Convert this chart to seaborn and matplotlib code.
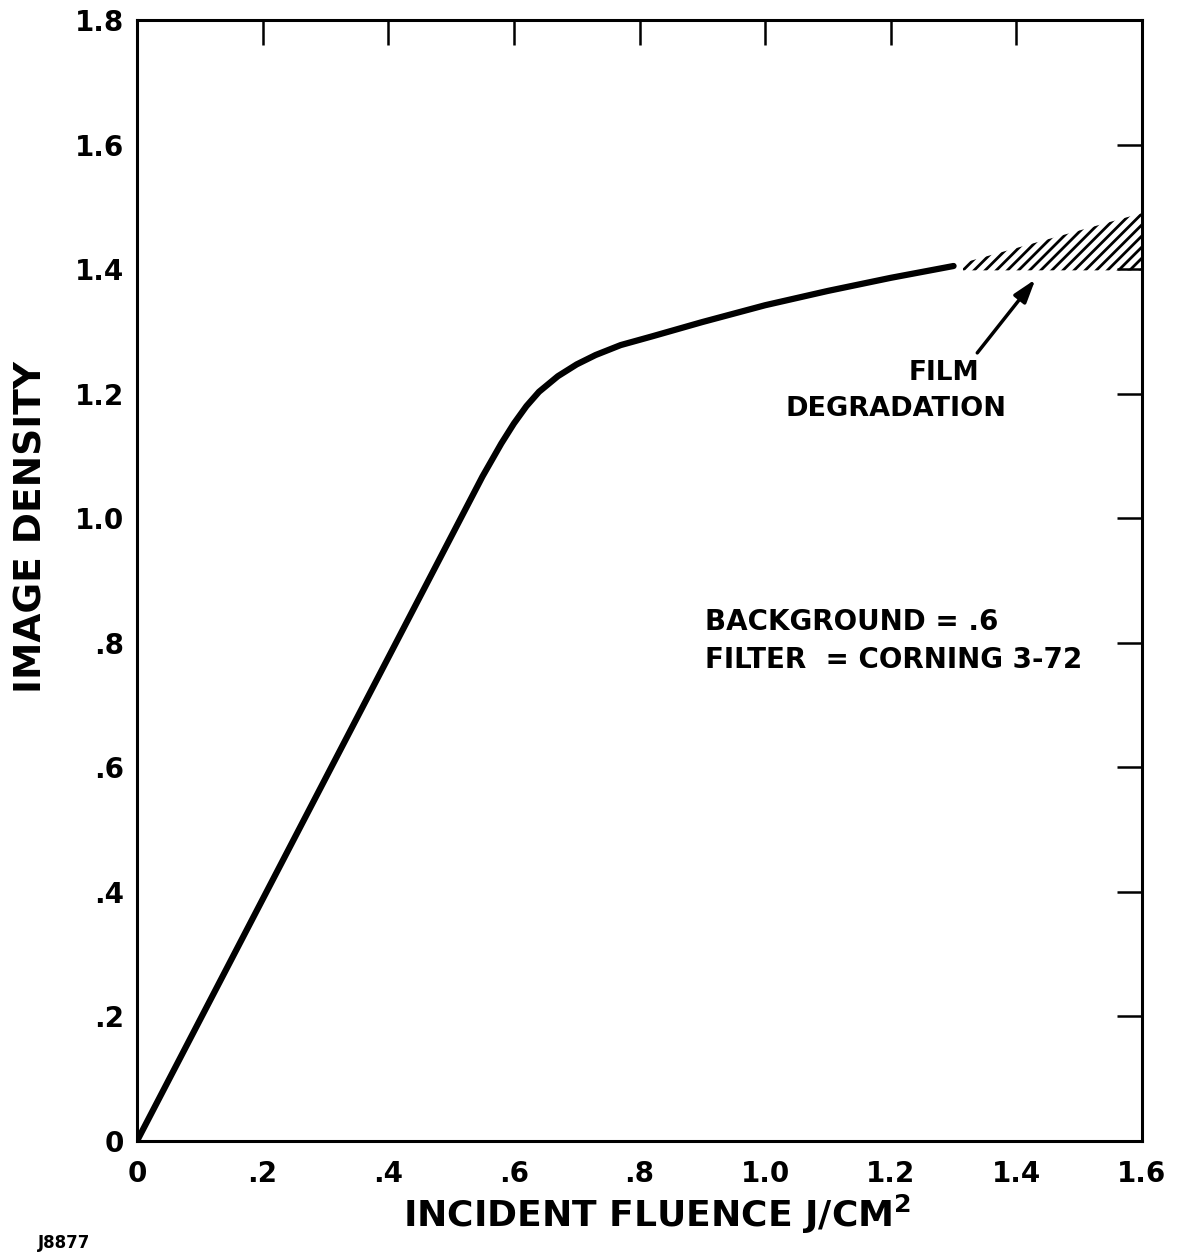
import numpy as np
import pandas as pd
import matplotlib
matplotlib.use("Agg")
import matplotlib.pyplot as plt
import seaborn as sns

# --- data ---
fluence = [0.0, 0.1, 0.2, 0.3, 0.4, 0.5, 0.55, 0.58, 0.60, 0.62, 0.64, 0.67, 0.70, 0.73, 0.77, 0.82, 0.90, 1.00, 1.10, 1.20, 1.30]
density = [0.0, 0.194, 0.388, 0.582, 0.776, 0.970, 1.067, 1.120, 1.152, 1.180, 1.203, 1.228, 1.247, 1.262, 1.278, 1.292, 1.315, 1.342, 1.365, 1.386, 1.405]

hatch_x = [1.315, 1.60]
hatch_low = [1.398, 1.398]
hatch_high = [1.41, 1.49]

xticks = [0, 0.2, 0.4, 0.6, 0.8, 1.0, 1.2, 1.4, 1.6]
xtick_labels = ["0", ".2", ".4", ".6", ".8", "1.0", "1.2", "1.4", "1.6"]
yticks = [0, 0.2, 0.4, 0.6, 0.8, 1.0, 1.2, 1.4, 1.6, 1.8]
ytick_labels = ["0", ".2", ".4", ".6", ".8", "1.0", "1.2", "1.4", "1.6", "1.8"]

arrow_tail = (1.335, 1.262)
arrow_tip = (1.433, 1.387)

sns.set_style("white")
plt.rcParams["font.family"] = ["DejaVu Sans"]
plt.rcParams["hatch.linewidth"] = 2.0
plt.rcParams["text.color"] = "black"
plt.rcParams["axes.labelcolor"] = "black"
plt.rcParams["xtick.color"] = "black"
plt.rcParams["ytick.color"] = "black"

fig = plt.figure(figsize=(11.77, 12.53), dpi=100)
ax = fig.add_axes([137/1177, 1 - 1141/1253, (1142-137)/1177, (1141-20)/1253])

df = pd.DataFrame({"fluence": fluence, "density": density})
sns.lineplot(data=df, x="fluence", y="density", ax=ax, color="black",
             linewidth=4.5, sort=False, estimator=None)

ax.fill_between(hatch_x, hatch_low, hatch_high, facecolor="none",
                edgecolor="black", hatch="///", linewidth=0)

ax.annotate("", xy=arrow_tip, xytext=arrow_tail,
            arrowprops=dict(arrowstyle="-|>,head_length=1.4,head_width=0.45",
                            color="black", lw=2.5))

ax.text(1.285, 1.233, "FILM", ha="center", va="center", fontsize=19, fontweight="bold")
ax.text(1.208, 1.175, "DEGRADATION", ha="center", va="center", fontsize=19.5, fontweight="bold")
ax.text(0.905, 0.833, "BACKGROUND = .6", ha="left", va="center", fontsize=20, fontweight="bold")
ax.text(0.905, 0.773, "FILTER  = CORNING 3-72", ha="left", va="center", fontsize=20, fontweight="bold")

ax.set_xlim(0, 1.6)
ax.set_ylim(0, 1.8)
ax.set_xticks(xticks)
ax.set_xticklabels(xtick_labels)
ax.set_yticks(yticks)
ax.set_yticklabels(ytick_labels)

ax.tick_params(axis="both", direction="in", length=18, width=1.8, color="black",
               labelsize=20, top=True, right=True)
ax.tick_params(axis="x", pad=14)
ax.tick_params(axis="y", pad=9)
for lab in ax.get_xticklabels() + ax.get_yticklabels():
    lab.set_fontweight("bold")

for s in ax.spines.values():
    s.set_visible(True)
    s.set_color("black")
    s.set_linewidth(2.2)

ax.set_xlabel("INCIDENT FLUENCE J/CM$^{\\mathbf{2}}$", fontsize=26, fontweight="bold")
ax.set_ylabel("IMAGE DENSITY", fontsize=27, fontweight="bold")
ax.xaxis.set_label_coords(0.518, -0.046)
ax.yaxis.set_label_coords(-0.087, 0.548)

fig.text(38/1177, 1 - 1243/1253, "J8877", fontsize=12, fontweight="bold", ha="left", va="center")

fig.savefig("out.png", dpi=100, facecolor="white")
